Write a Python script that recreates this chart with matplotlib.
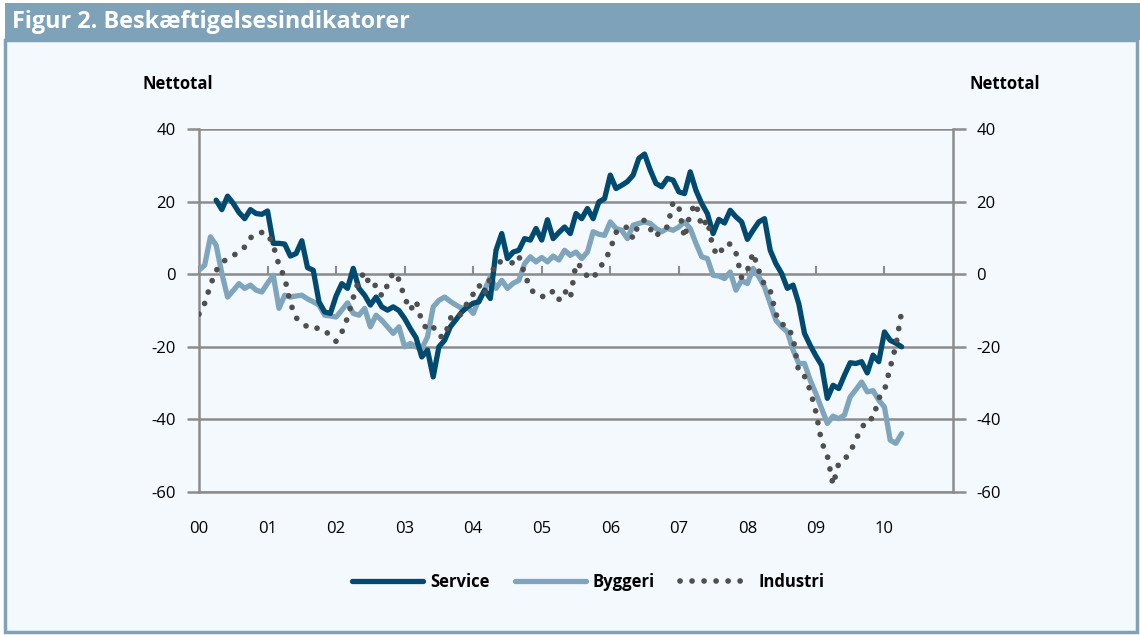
import numpy as np
import matplotlib
matplotlib.use("Agg")
import matplotlib.pyplot as plt
from matplotlib.patches import Rectangle
from matplotlib.lines import Line2D

plt.rcParams['font.family'] = ['Open Sans', 'DejaVu Sans']

# Monthly net balances, Jan 2000 = month 0
service_start = 3
service = [20.4, 17.8, 21.5, 19.5, 17, 15.3, 17.8, 16.7, 16.5, 17.4,
           8.5, 8.5, 8.3, 5, 5.7, 9.2, 1.8, 1.1, -7.6, -10.4,
           -10.8, -6, -2.6, -3.9, 1.6, -3.9, -5.8, -8.5, -6.3, -9,
           -9.9, -9, -10, -12.2, -15, -17.5, -22.8, -20.9, -28.3, -20,
           -18.2, -14.5, -12.5, -10.4, -9, -8, -7.6, -4.4, -6.7, 6.6,
           11.2, 4.3, 6.1, 6.6, 9.8, 9.4, 12.6, 9.4, 15, 9.8,
           11.5, 13, 11.2, 16.7, 15.3, 18.1, 15.3, 19.9, 20.8, 27.3,
           23.6, 24.5, 25.5, 27.3, 31.9, 33.1, 28.7, 25, 24.1, 26.4,
           25.9, 22.7, 22.2, 28.2, 23.1, 19.5, 16.7, 11.2, 15.1, 14.1,
           17.6, 15.8, 14.4, 9.6, 12.1, 14.4, 15.3, 6.6, 2.9, 0.2,
           -3.9, -3, -8.1, -16.3, -19.6, -22.5, -25.1, -34.2, -30.6, -31.5,
           -27.8, -24.4, -24.6, -24.1, -27.2, -22.3, -24.1, -15.9, -18.2, -19,
           -20]

byggeri_start = 0
byggeri = [1.1, 2.5, 10.3, 8, 0.2, -6.3, -4.5, -2.6, -3.9, -3,
           -4.4, -4.9, -2.5, -0.3, -9.4, -5.8, -6.3, -6, -5.8, -6.8,
           -7.6, -8.5, -11.3, -11.5, -11.8, -9.9, -7.9, -10.8, -11.3, -9.4,
           -14.5, -11.3, -12.7, -14.5, -16.3, -14.5, -20, -19.1, -20, -20.5,
           -17.3, -9, -7.2, -6.3, -7.5, -8.5, -9.4, -9, -10.8, -7,
           -4.4, -0.7, -3.9, -1.7, -3.9, -2.5, -1.7, 2.9, 4.8, 3.4,
           4.6, 3.4, 5, 3.9, 6.6, 5.2, 6.1, 4.3, 6.1, 11.7,
           11, 10.7, 14.4, 12.6, 12.1, 9.8, 13.5, 14, 14.4, 14,
           12.6, 11.7, 12.6, 12.1, 13, 14.4, 12.6, 8.5, 4.8, 4.3,
           -0.3, -0.5, -1.2, 0.6, -4.4, -1.7, -2.6, 1.6, -0.7, -3.5,
           -8.1, -12.7, -14.5, -15.9, -20.9, -24.6, -24.6, -29.2, -32.9, -37,
           -41.1, -39.1, -39.8, -38.8, -33.8, -31.8, -29.7, -32.4, -32.1, -34.7,
           -36.6, -45.7, -46.6, -43.9]

industri_start = 0
industri = [-11, -8, -3, 1, 3, 4.5, 5.2, 6, 7.5, 10,
            11.2, 11.5, 11.2, 8, 2.5, -1, -8, -12, -13.5, -14.5,
            -15.2, -14.7, -15.5, -17, -18.5, -16, -12, -6.5, -1.5, 0.5,
            -3.5, -3, -6, -3, 0.5, -1.5, -6.5, -9.9, -7.3, -13,
            -15.4, -14.5, -17.1, -17.3, -12, -12.5, -10.7, -7.8, -5.5, -3,
            -5.5, -1, 3.4, 3.4, 3.3, 3.1, 5, 0, -3.9, -5.8,
            -6.1, -6.3, -4.6, -7, -4.5, -6.7, 3, 2, -0.7, -1.2,
            1.6, 3.5, 6.8, 11.5, 13, 12.9, 9.8, 14, 14.9, 12.5,
            10.3, 12.5, 13, 19.9, 18.5, 10, 17, 19.5, 13, 15,
            7, 5.1, 8.3, 8.3, 5.9, -1, 1, 5.9, 1, -3,
            -4.5, -11, -13.8, -14.2, -17.5, -27, -28.1, -32, -38, -46.2,
            -50, -58, -52.1, -51, -49.1, -45.5, -42.5, -39.8, -39.8, -34.2,
            -32, -25.8, -19.6, -10.4]

years = list(range(2000, 2011))
year_labels = ["00", "01", "02", "03", "04", "05", "06", "07", "08", "09", "10"]

c_service = "#00496f"
c_byggeri = "#7fa5bc"
c_industri = "#4f4f4f"
c_frame = "#7ea3b9"
c_grid = "#8c8c8c"
c_bg = "#f4f9fd"

dotted = (0, (0.01, 2.1))


def month_axis(start, n):
    return 2000 + (start + np.arange(n)) / 12.0


fig = plt.figure(figsize=(11.4, 6.35), dpi=100)
fig.patch.set_facecolor("white")

# panel frame and title bar
fig.patches.append(Rectangle((5 / 1140, 3 / 635), 1132 / 1140, 592 / 635,
                             transform=fig.transFigure, facecolor=c_bg,
                             edgecolor=c_frame, linewidth=2.5, zorder=-5))
fig.patches.append(Rectangle((5 / 1140, 595 / 635), 1135 / 1140, 37 / 635,
                             transform=fig.transFigure, facecolor=c_frame,
                             edgecolor="none", zorder=-4))
fig.text(12 / 1140, 613.5 / 635, "Figur 2. Beskæftigelsesindikatorer",
         color="white", fontsize=16.8, fontweight="bold", va="center", ha="left")

ax = fig.add_axes([199 / 1140, 143 / 635, 754 / 1140, 363 / 635])
ax.set_facecolor(c_bg)

ax.plot(month_axis(service_start, len(service)), service, color=c_service,
        lw=3.8, solid_joinstyle="round", solid_capstyle="round", zorder=4)
ax.plot(month_axis(byggeri_start, len(byggeri)), byggeri, color=c_byggeri,
        lw=3.8, solid_joinstyle="round", solid_capstyle="round", zorder=3)
ax.plot(month_axis(industri_start, len(industri)), industri, color=c_industri,
        lw=4.1, linestyle=dotted, dash_capstyle="round", zorder=5)

ax.set_xlim(2000, 2011)
ax.set_ylim(-60, 40)
ax.set_yticks([-60, -40, -20, 0, 20, 40])
ax.set_yticklabels(["-60", "-40", "-20", "0", "20", "40"])
ax.yaxis.grid(True, color=c_grid, lw=1.8, zorder=1)
ax.set_axisbelow(True)

ax.tick_params(axis="y", which="both", left=True, right=True, labelleft=True,
               labelright=True, length=9, width=1.8, color=c_grid,
               labelsize=12, pad=8)
for side in ["left", "right", "bottom"]:
    ax.spines[side].set_color(c_grid)
    ax.spines[side].set_linewidth(1.8)
ax.spines["top"].set_visible(False)

ax.set_xticks(years)
ax.set_xticklabels(year_labels)
ax.tick_params(axis="x", length=0, labelsize=12, pad=21)

# small tick marks sitting on the zero line
zero_axis = ax.secondary_xaxis(0.6)
zero_axis.set_xticks(years, labels=[""] * len(years))
zero_axis.tick_params(axis="x", length=6, width=1.5, color=c_grid,
                      direction="out")
zero_axis.spines["bottom"].set_visible(False)

fig.text(178 / 1140, 551 / 635, "Nettotal", fontsize=12, fontweight="bold",
         ha="center", va="center")
fig.text(1005 / 1140, 551 / 635, "Nettotal", fontsize=12, fontweight="bold",
         ha="center", va="center")

handles = [
    Line2D([], [], color=c_service, lw=3.8, solid_capstyle="round"),
    Line2D([], [], color=c_byggeri, lw=3.8, solid_capstyle="round"),
    Line2D([], [], color=c_industri, lw=4.1, linestyle=dotted,
           dash_capstyle="round"),
]
leg = fig.legend(handles, ["Service", "Byggeri", "Industri"],
                 loc="center", bbox_to_anchor=(588 / 1140, 53 / 635),
                 ncol=3, frameon=False, handlelength=4.3, handletextpad=0.4,
                 columnspacing=1.5, prop={"weight": "bold", "size": 12})

fig.savefig("out.png", dpi=100)
